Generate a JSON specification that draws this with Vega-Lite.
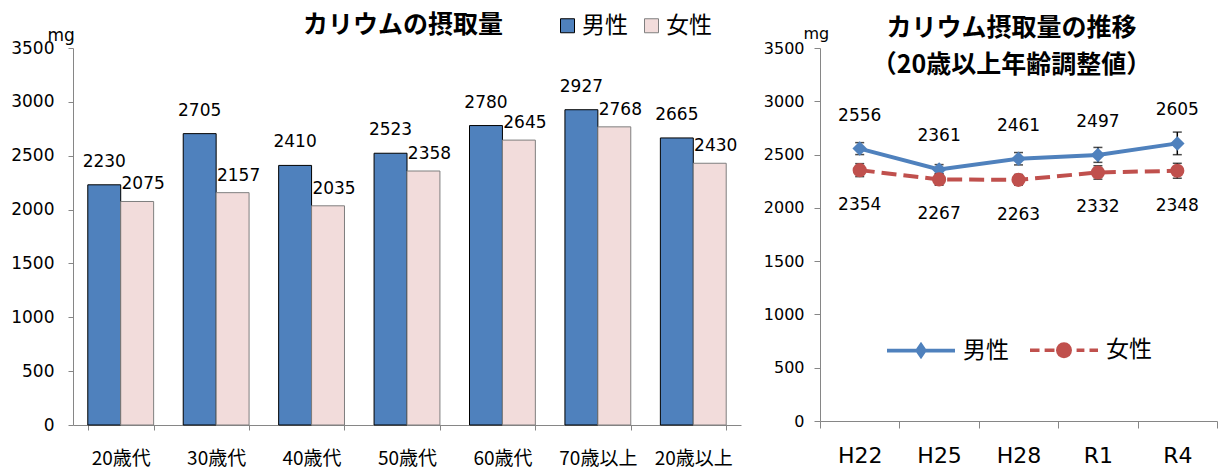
{
  "$schema": "https://vega.github.io/schema/vega-lite/v6.json",
  "padding": {"left": 10, "top": 13, "right": 2, "bottom": 0},
  "bounds": "flush",
  "spacing": 79,
  "resolve": {
    "scale": {"color": "independent", "stroke": "independent", "fill": "independent", "shape": "independent", "strokeDash": "independent", "xOffset": "independent"},
    "legend": {"color": "independent", "stroke": "independent", "fill": "independent", "shape": "independent", "strokeDash": "independent"}
  },
  "datasets": {
    "bars": [
      {"age": "20歳代", "sex": "男性", "value": 2230},
      {"age": "20歳代", "sex": "女性", "value": 2075},
      {"age": "30歳代", "sex": "男性", "value": 2705},
      {"age": "30歳代", "sex": "女性", "value": 2157},
      {"age": "40歳代", "sex": "男性", "value": 2410},
      {"age": "40歳代", "sex": "女性", "value": 2035},
      {"age": "50歳代", "sex": "男性", "value": 2523},
      {"age": "50歳代", "sex": "女性", "value": 2358},
      {"age": "60歳代", "sex": "男性", "value": 2780},
      {"age": "60歳代", "sex": "女性", "value": 2645},
      {"age": "70歳以上", "sex": "男性", "value": 2927},
      {"age": "70歳以上", "sex": "女性", "value": 2768},
      {"age": "20歳以上", "sex": "男性", "value": 2665},
      {"age": "20歳以上", "sex": "女性", "value": 2430}
    ],
    "trend": [
      {"year": "H22", "sex": "男性", "value": 2556, "lo": 2500, "hi": 2612},
      {"year": "H25", "sex": "男性", "value": 2361, "lo": 2316, "hi": 2406},
      {"year": "H28", "sex": "男性", "value": 2461, "lo": 2403, "hi": 2519},
      {"year": "R1", "sex": "男性", "value": 2497, "lo": 2427, "hi": 2567},
      {"year": "R4", "sex": "男性", "value": 2605, "lo": 2499, "hi": 2711},
      {"year": "H22", "sex": "女性", "value": 2354, "lo": 2293, "hi": 2415},
      {"year": "H25", "sex": "女性", "value": 2267, "lo": 2212, "hi": 2322},
      {"year": "H28", "sex": "女性", "value": 2263, "lo": 2213, "hi": 2313},
      {"year": "R1", "sex": "女性", "value": 2332, "lo": 2269, "hi": 2395},
      {"year": "R4", "sex": "女性", "value": 2348, "lo": 2278, "hi": 2418}
    ]
  },
  "hconcat": [
    {
      "width": 668,
      "height": 377,
      "data": {"name": "bars"},
      "title": {"text": "カリウムの摂取量", "anchor": "middle", "frame": "group", "dx": -4, "offset": -24, "font": "Noto Sans CJK JP", "fontSize": 25, "fontWeight": "bold", "color": "#000000"},
      "encoding": {
        "x": {
          "field": "age", "type": "nominal",
          "sort": ["20歳代", "30歳代", "40歳代", "50歳代", "60歳代", "70歳以上", "20歳以上"],
          "scale": {"paddingInner": 0.31, "paddingOuter": 0.155},
          "axis": {"title": null, "labelAngle": 0, "tickBand": "extent", "tickSize": 5, "labelFont": "Noto Sans CJK JP", "labelFontSize": 19, "labelPadding": 19, "labelColor": "#000000", "domainColor": "#868686", "tickColor": "#868686"}
        },
        "xOffset": {"field": "sex", "type": "nominal", "sort": ["男性", "女性"], "scale": {"domain": ["男性", "女性"], "paddingInner": 0, "paddingOuter": 0}},
        "y": {
          "field": "value", "type": "quantitative",
          "scale": {"domain": [0, 3500], "nice": false},
          "axis": {"values": [0, 500, 1000, 1500, 2000, 2500, 3000, 3500], "format": "d", "grid": false, "title": "mg", "titleAngle": 0, "titleX": -26, "titleY": -8, "titleAlign": "left", "titleBaseline": "alphabetic", "titleFont": "DejaVu Sans", "titleFontSize": 17, "titleFontWeight": "normal", "titleColor": "#000000", "labelFont": "DejaVu Sans", "labelFontSize": 17, "labelPadding": 14, "labelColor": "#000000", "tickSize": 5, "domainColor": "#868686", "tickColor": "#868686"}
        }
      },
      "layer": [
        {
          "mark": {"type": "bar", "strokeWidth": 1},
          "encoding": {
            "color": {"field": "sex", "type": "nominal", "scale": {"domain": ["男性", "女性"], "range": ["#4F81BD", "#F2DCDB"]},
              "legend": {"orient": "none", "legendX": 483, "legendY": -34, "direction": "horizontal", "title": null, "symbolType": "square", "symbolSize": 196, "symbolStrokeWidth": 1, "labelFont": "Noto Sans CJK JP", "labelFontSize": 23, "labelColor": "#000000", "labelOffset": 3, "columnPadding": 12, "padding": 0}},
            "stroke": {"field": "sex", "type": "nominal", "scale": {"domain": ["男性", "女性"], "range": ["#000000", "#7F7F7F"]},
              "legend": {"orient": "none", "legendX": 483, "legendY": -34, "direction": "horizontal", "title": null, "symbolType": "square", "symbolSize": 196, "symbolStrokeWidth": 1, "labelFont": "Noto Sans CJK JP", "labelFontSize": 23, "labelColor": "#000000", "labelOffset": 3, "columnPadding": 12, "padding": 0}}
          }
        },
        {
          "transform": [{"filter": "datum.sex === '男性'"}],
          "mark": {"type": "text", "baseline": "middle", "dy": -23, "font": "DejaVu Sans", "fontSize": 17, "color": "#000000"},
          "encoding": {"text": {"field": "value", "type": "quantitative"}}
        },
        {
          "transform": [{"filter": "datum.sex === '女性'"}],
          "mark": {"type": "text", "baseline": "middle", "dy": -17, "dx": 6, "font": "DejaVu Sans", "fontSize": 17, "color": "#000000"},
          "encoding": {"text": {"field": "value", "type": "quantitative"}}
        }
      ]
    },
    {
      "width": 397,
      "height": 373,
      "data": {"name": "trend"},
      "title": {"text": ["カリウム摂取量の推移", "（20歳以上年齢調整値）"], "lineHeight": 37, "anchor": "middle", "frame": "group", "dx": -7, "offset": -53, "font": "Noto Sans CJK JP", "fontSize": 25, "fontWeight": "bold", "color": "#000000"},
      "encoding": {
        "x": {
          "field": "year", "type": "nominal", "sort": ["H22", "H25", "H28", "R1", "R4"], "bandPosition": 0.5,
          "scale": {"type": "band", "paddingInner": 0, "paddingOuter": 0},
          "axis": {"title": null, "labelAngle": 0, "tickBand": "extent", "tickSize": 7, "labelFont": "DejaVu Sans", "labelFontSize": 22, "labelPadding": 17, "labelColor": "#000000", "domainColor": "#868686", "tickColor": "#868686"}
        },
        "y": {
          "field": "value", "type": "quantitative",
          "scale": {"domain": [0, 3500], "nice": false},
          "axis": {"values": [0, 500, 1000, 1500, 2000, 2500, 3000, 3500], "format": "d", "grid": false, "title": "mg", "titleAngle": 0, "titleX": -17, "titleY": -10, "titleAlign": "left", "titleBaseline": "alphabetic", "titleFont": "DejaVu Sans", "titleFontSize": 16, "titleFontWeight": "normal", "titleColor": "#000000", "labelFont": "DejaVu Sans", "labelFontSize": 16, "labelPadding": 10, "labelColor": "#000000", "tickSize": 6, "domainColor": "#868686", "tickColor": "#868686"}
        }
      },
      "layer": [
        {
          "mark": {"type": "point", "filled": true, "size": 0, "strokeWidth": 3.7},
          "encoding": {
            "shape": {"field": "sex", "type": "nominal", "scale": {"domain": ["男性", "女性"], "range": ["M-1,0H1M0,-0.16L0.11,0L0,0.16L-0.11,0Z", "M-1,0H-0.72M-0.57,0H-0.28M0.37,0H0.6M0.75,0H1M0.18,0L0.166,0.069L0.127,0.127L0.069,0.166L0,0.18L-0.069,0.166L-0.127,0.127L-0.166,0.069L-0.18,0L-0.166,-0.069L-0.127,-0.127L-0.069,-0.166L0,-0.18L0.069,-0.166L0.127,-0.127L0.166,-0.069Z"]},
              "legend": {"orient": "none", "legendX": 65, "legendY": 266, "direction": "horizontal", "title": null, "symbolSize": 4624, "symbolStrokeWidth": 3.7, "symbolOpacity": 1, "symbolFillColor": "#4F81BD", "symbolStrokeColor": "#4F81BD", "labelFont": "Noto Sans CJK JP", "labelFontSize": 23, "labelColor": "#000000", "labelOffset": 6, "columnPadding": 13, "padding": 0}},
            "fill": {"field": "sex", "type": "nominal", "scale": {"domain": ["男性", "女性"], "range": ["#4F81BD", "#C0504D"]},
              "legend": {"orient": "none", "legendX": 65, "legendY": 266, "direction": "horizontal", "title": null, "symbolSize": 4624, "symbolStrokeWidth": 3.7, "symbolOpacity": 1, "symbolFillColor": "#4F81BD", "symbolStrokeColor": "#4F81BD", "labelFont": "Noto Sans CJK JP", "labelFontSize": 23, "labelColor": "#000000", "labelOffset": 6, "columnPadding": 13, "padding": 0}},
            "stroke": {"field": "sex", "type": "nominal", "scale": {"domain": ["男性", "女性"], "range": ["#4F81BD", "#C0504D"]},
              "legend": {"orient": "none", "legendX": 65, "legendY": 266, "direction": "horizontal", "title": null, "symbolSize": 4624, "symbolStrokeWidth": 3.7, "symbolOpacity": 1, "symbolFillColor": "#4F81BD", "symbolStrokeColor": "#4F81BD", "labelFont": "Noto Sans CJK JP", "labelFontSize": 23, "labelColor": "#000000", "labelOffset": 6, "columnPadding": 13, "padding": 0}}
          }
        },
        {
          "transform": [{"filter": "datum.sex === '男性'"}],
          "mark": {"type": "line", "strokeWidth": 4, "color": "#4F81BD"},
          "encoding": {}
        },
        {
          "transform": [{"filter": "datum.sex === '女性'"}],
          "mark": {"type": "line", "strokeWidth": 4, "color": "#C0504D", "strokeDash": [15, 7]},
          "encoding": {}
        },
        {
          "mark": {"type": "rule", "color": "#000000", "strokeWidth": 1.5},
          "encoding": {"y": {"field": "lo", "type": "quantitative"}, "y2": {"field": "hi"}}
        },
        {
          "mark": {"type": "tick", "color": "#000000", "size": 9, "thickness": 1.5, "orient": "horizontal"},
          "encoding": {"y": {"field": "lo", "type": "quantitative"}}
        },
        {
          "mark": {"type": "tick", "color": "#000000", "size": 9, "thickness": 1.5, "orient": "horizontal"},
          "encoding": {"y": {"field": "hi", "type": "quantitative"}}
        },
        {
          "transform": [{"filter": "datum.sex === '男性'"}],
          "mark": {"type": "point", "shape": "diamond", "filled": true, "size": 210, "opacity": 1, "color": "#4F81BD"},
          "encoding": {}
        },
        {
          "transform": [{"filter": "datum.sex === '女性'"}],
          "mark": {"type": "point", "shape": "circle", "filled": true, "size": 200, "opacity": 1, "color": "#C0504D"},
          "encoding": {}
        },
        {
          "transform": [{"filter": "datum.sex === '男性'"}],
          "mark": {"type": "text", "baseline": "middle", "dy": -33, "font": "DejaVu Sans", "fontSize": 17, "color": "#000000"},
          "encoding": {"text": {"field": "value", "type": "quantitative"}}
        },
        {
          "transform": [{"filter": "datum.sex === '女性'"}],
          "mark": {"type": "text", "baseline": "middle", "dy": 35, "font": "DejaVu Sans", "fontSize": 17, "color": "#000000"},
          "encoding": {"text": {"field": "value", "type": "quantitative"}}
        }
      ]
    }
  ],
  "config": {
    "view": {"stroke": null},
    "font": "DejaVu Sans"
  }
}
